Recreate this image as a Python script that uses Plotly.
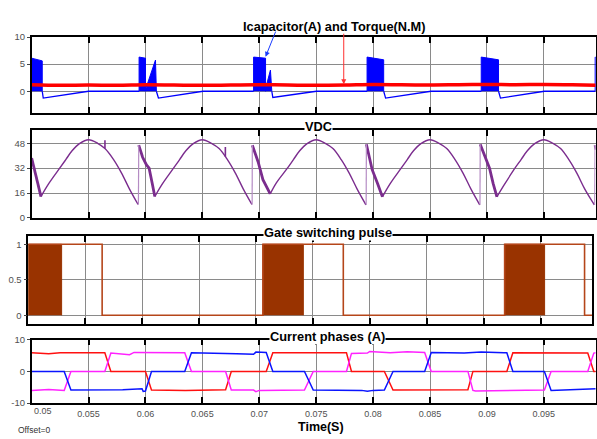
import plotly.graph_objects as go

W, H = 597, 439

# ---------------- data ----------------
# Panel 1: Icapacitor (blue) chopping pulses and Torque (red)
pulse_start = [0.0500, 0.05944, 0.06950, 0.07947, 0.08950, 0.09951]
pulse_end = [0.05093, 0.06000, 0.07055, 0.08093, 0.09102, 0.09960]
pulse_top_start = [6.1, 6.3, 6.3, 6.3, 6.3, 6.3]
pulse_top_end = [5.6, 6.1, 6.1, 5.8, 5.8, 6.3]
tri_t = [[0.06000, 0.06088, 0.06096], [0.07055, 0.07098, 0.07110]]
tri_v = [[0.3, 5.75, 0.0], [0.5, 3.9, 0.0]]
icap_t = [0.05093, 0.05102, 0.0550, 0.05944, None,
          0.06096, 0.06114, 0.06505, 0.06950, None,
          0.07110, 0.07119, 0.07502, 0.07947, None,
          0.08093, 0.08110, 0.08509, 0.08950, None,
          0.09102, 0.09119, 0.09505, 0.09951]
icap_v = [0.0, -1.25, 0.0, 0.0, None,
          0.0, -1.25, 0.0, 0.0, None,
          0.0, -1.15, 0.0, 0.0, None,
          0.0, -1.25, 0.0, 0.0, None,
          0.0, -1.25, 0.0, 0.0]
torque_t = [0.05, 0.0525, 0.055, 0.0575, 0.06, 0.0625, 0.065, 0.0675, 0.07, 0.0725,
            0.075, 0.0775, 0.08, 0.0825, 0.085, 0.0875, 0.09, 0.0925, 0.095, 0.0975, 0.0996]
torque_v = [1.2, 1.1, 1.15, 1.1, 1.2, 1.15, 1.1, 1.15, 1.2, 1.15,
            1.1, 1.15, 1.25, 1.2, 1.15, 1.2, 1.25, 1.2, 1.25, 1.2, 1.1]

# Panel 2: VDC
arc_t = [0.05082, 0.0515, 0.05237, 0.0530, 0.05355, 0.0542, 0.0550, 0.0558, 0.05644, 0.0572, 0.0579, 0.0586, 0.05935, None,
         0.06082, 0.0615, 0.06237, 0.0630, 0.06355, 0.0642, 0.0650, 0.0658, 0.06647, 0.0672, 0.0679, 0.0686, 0.06935, None,
         0.07096, 0.0715, 0.07237, 0.0730, 0.07355, 0.0742, 0.0750, 0.0758, 0.07647, 0.0772, 0.0779, 0.0786, 0.07937, None,
         0.08082, 0.0815, 0.08237, 0.0830, 0.08355, 0.0842, 0.0850, 0.0858, 0.08647, 0.0872, 0.0879, 0.0886, 0.08937, None,
         0.09088, 0.0915, 0.09237, 0.0930, 0.09355, 0.0942, 0.0950, 0.0958, 0.09647, 0.0972, 0.0979, 0.0986, 0.09944]
arc_v = [13.7, 22.0, 31.0, 37.5, 43.2, 47.8, 50.3, 48.0, 44.6, 37.5, 28.8, 18.5, 8.6, None,
         13.7, 22.0, 31.0, 37.5, 43.2, 47.8, 50.3, 48.0, 44.6, 37.5, 28.8, 18.5, 8.6, None,
         15.4, 22.5, 31.0, 37.5, 43.2, 47.8, 50.3, 48.0, 44.6, 37.5, 28.8, 18.5, 8.4, None,
         13.5, 22.0, 31.0, 37.5, 43.2, 47.8, 50.3, 48.0, 44.6, 37.5, 28.8, 18.5, 8.4, None,
         13.5, 21.0, 31.0, 37.5, 43.2, 47.8, 50.3, 48.0, 44.6, 37.5, 28.8, 18.5, 8.4]
desc_t = [0.0500, 0.05030, 0.05060, 0.05082, None,
          0.05941, 0.05975, 0.06009, 0.06032, 0.06060, 0.06082, None,
          0.06939, 0.06990, 0.07032, 0.07060, 0.07096, None,
          0.07941, 0.07992, 0.08040, 0.08082, None,
          0.08941, 0.09023, 0.09055, 0.09088, None,
          0.09950, 0.09960]
desc_v = [38.5, 29.0, 20.0, 13.7, None,
          46.8, 39.0, 34.1, 32.0, 22.0, 13.7, None,
          46.8, 36.0, 24.6, 20.4, 15.4, None,
          47.4, 31.0, 22.0, 13.5, None,
          47.4, 32.0, 22.0, 13.5, None,
          46.8, 44.0]
jump_t = [0.05938, 0.05941, None, 0.06937, 0.06939, None, 0.07939, 0.07941, None,
          0.08939, 0.08941, None, 0.09947, 0.09950]
jump_v = [8.6, 46.8, None, 8.6, 46.8, None, 8.4, 47.4, None, 8.4, 47.4, None, 8.4, 46.8]
spike_t = [0.05644, 0.05644, None, 0.06702, 0.06702]
spike_v = [44.6, 50.0, None, 39.3, 45.7]

# Panel 3: gate switching pulse
chop_start = [0.0500, 0.07061, 0.09184]
chop_end = [0.05293, 0.07416, 0.09535]
gate_t = [0.0500, 0.05293, 0.05649, 0.07061, 0.07416, 0.07767, 0.09184, 0.09535, 0.09886, 0.0996]
gate_v = [1, 1, 0, 1, 1, 0, 1, 1, 0, 0]

# Panel 4: current phases
ia_t = [0.0500, 0.0515, 0.0525, 0.05643, 0.05696, 0.0600, 0.06053, 0.0635, 0.06704, 0.06754, 0.07061, 0.07119,
        0.07766, 0.07810, 0.08099, 0.08175, 0.08833, 0.08877, 0.09175, 0.09228, 0.09886, 0.09939, 0.0996]
ia_v = [5.9, 5.6, 5.9, 5.9, 0.0, 0.0, -5.9, -6.0, -5.8, 0.0, 0.0, 5.9,
        5.9, 0.0, 0.0, -5.9, -5.8, 0.0, 0.0, 5.9, 5.8, 0.0, 0.0]
ib_t = [0.0500, 0.0515, 0.05286, 0.05345, 0.05643, 0.05696, 0.0586, 0.0590, 0.06345, 0.06404, 0.06704, 0.06754,
        0.0695, 0.0697, 0.0700, 0.07397, 0.07474, 0.07766, 0.07810, 0.0795, 0.0797, 0.0815, 0.0830, 0.08453,
        0.08511, 0.08833, 0.08877, 0.0890, 0.09505, 0.09564, 0.09886, 0.09939, 0.0996]
ib_v = [-6.0, -5.7, -6.0, 0.0, 0.0, 5.8, 5.3, 6.0, 5.9, 0.0, 0.0, -5.9,
        -5.9, -6.4, -6.0, -5.9, 0.0, 0.0, 5.7, 5.8, 6.3, 5.9, 6.2, 6.0,
        0.0, 0.0, -6.0, -6.2, -5.9, 0.0, 0.0, 5.8, 5.9]
ic_t = [0.0500, 0.05286, 0.05345, 0.0580, 0.0597, 0.0598, 0.0600, 0.06053, 0.06345, 0.06404, 0.0680, 0.0695,
        0.0697, 0.07061, 0.07119, 0.07397, 0.07474, 0.0790, 0.0795, 0.0800, 0.08099, 0.08175, 0.08453, 0.08511,
        0.0880, 0.0895, 0.0915, 0.09175, 0.09228, 0.09505, 0.09564, 0.0975, 0.0990, 0.0996]
ic_v = [0.0, 0.0, -5.9, -5.8, -5.5, -6.3, -6.2, 0.0, 0.0, 5.9, 5.6, 5.4,
        6.1, 6.0, 0.0, 0.0, -5.9, -6.0, -6.3, -6.0, -5.9, 0.0, 0.0, 6.0,
        5.8, 6.1, 5.9, 5.9, 0.0, 0.0, -6.0, -5.9, -5.6, -5.5]

x_ticks = [0.05, 0.055, 0.06, 0.065, 0.07, 0.075, 0.08, 0.085, 0.09, 0.095]
x_labels = ["0.05", "0.055", "0.06", "0.065", "0.07", "0.075", "0.08", "0.085", "0.09", "0.095"]

# ---------------- figure ----------------
fig = go.Figure()

FONT = "Liberation Sans, Arial, sans-serif"

# panel 1
for i in range(len(pulse_start)):
    fig.add_trace(go.Scatter(
        x=[pulse_start[i], pulse_start[i], pulse_end[i], pulse_end[i]],
        y=[0, pulse_top_start[i], pulse_top_end[i], 0],
        fill="toself", fillcolor="#0000FF", mode="lines",
        line=dict(color="#0000FF", width=1), xaxis="x", yaxis="y", hoverinfo="skip"))
for tt, vv in zip(tri_t, tri_v):
    fig.add_trace(go.Scatter(
        x=[tt[0]] + tt + [tt[-1]], y=[0] + vv + [0],
        fill="toself", fillcolor="#0000FF", mode="lines",
        line=dict(color="#0000FF", width=1), xaxis="x", yaxis="y", hoverinfo="skip"))
fig.add_trace(go.Scatter(x=icap_t, y=icap_v, mode="lines",
                         line=dict(color="#0000FF", width=1.3), xaxis="x", yaxis="y"))
fig.add_trace(go.Scatter(x=torque_t, y=torque_v, mode="lines", line_shape="spline",
                         line=dict(color="#FF0000", width=3.5), xaxis="x", yaxis="y"))

# panel 2
VC = "#7B2D8E"
fig.add_trace(go.Scatter(x=arc_t, y=arc_v, mode="lines", line_shape="spline",
                         line=dict(color=VC, width=1.4), xaxis="x2", yaxis="y2"))
fig.add_trace(go.Scatter(x=desc_t, y=desc_v, mode="lines",
                         line=dict(color=VC, width=2.8), xaxis="x2", yaxis="y2"))
fig.add_trace(go.Scatter(x=jump_t, y=jump_v, mode="lines",
                         line=dict(color="#B58CC4", width=1.2), xaxis="x2", yaxis="y2"))
fig.add_trace(go.Scatter(x=spike_t, y=spike_v, mode="lines",
                         line=dict(color=VC, width=1.6), xaxis="x2", yaxis="y2"))

# panel 3
for s, e in zip(chop_start, chop_end):
    fig.add_trace(go.Scatter(x=[s, s, e, e], y=[0, 1, 1, 0], fill="toself",
                             fillcolor="#993300", mode="lines",
                             line=dict(color="#993300", width=1), xaxis="x3", yaxis="y3"))
fig.add_trace(go.Scatter(x=gate_t, y=gate_v, mode="lines", line_shape="hv",
                         line=dict(color="#B5461A", width=1.6), xaxis="x3", yaxis="y3"))

# panel 4
fig.add_trace(go.Scatter(x=ia_t, y=ia_v, mode="lines", line=dict(color="#FF1010", width=1.5),
                         xaxis="x4", yaxis="y4"))
fig.add_trace(go.Scatter(x=ib_t, y=ib_v, mode="lines", line=dict(color="#FF22FF", width=1.5),
                         xaxis="x4", yaxis="y4"))
fig.add_trace(go.Scatter(x=ic_t, y=ic_v, mode="lines", line=dict(color="#0A14FF", width=1.5),
                         xaxis="x4", yaxis="y4"))


def px(v):
    return v / W


def py(v):
    return 1 - v / H


xr = [0.05, 0.09954]
tickfont = dict(family=FONT, size=9.5, color="#505050")
xtickfont = dict(family=FONT, size=9, color="#505050")


def xax(dom, labels=False):
    d = dict(domain=dom, range=xr, tickvals=x_ticks,
             ticktext=([""] + x_labels[1:]) if labels else [""] * len(x_ticks),
             showgrid=True, gridcolor="#8A8A8A", gridwidth=1,
             showline=True, linecolor="black", linewidth=1.5, mirror="ticks",
             ticks="inside", ticklen=6, tickwidth=1.5, tickcolor="black",
             tickfont=xtickfont, zeroline=False, fixedrange=True)
    if labels:
        d["ticklabelstandoff"] = 1
    return d


def yax(dom, rng, tv, anchor):
    return dict(domain=dom, range=rng, tickvals=tv, ticktext=[f"{t:g}" for t in tv],
                showgrid=True, gridcolor="#8A8A8A", gridwidth=1,
                showline=True, linecolor="black", linewidth=1.5, mirror=True,
                ticks="outside", ticklen=3, tickwidth=1, tickcolor="#444444",
                tickfont=tickfont, zeroline=False, anchor=anchor, fixedrange=True)


dom_std = [px(31.7), px(596.5)]
dom_gate = [px(28.3), px(593.3)]

fig.update_layout(
    width=W, height=H, margin=dict(l=0, r=0, t=0, b=0),
    paper_bgcolor="white", plot_bgcolor="white", showlegend=False,
    xaxis=dict(xax(dom_std), anchor="y"),
    xaxis2=dict(xax(dom_std), anchor="y2"),
    xaxis3=dict(xax(dom_gate), anchor="y3"),
    xaxis4=dict(xax(dom_std, labels=True), anchor="y4"),
    yaxis=yax([py(110), py(31.7)], [-4.05, 10.02], [0, 5, 10], "x"),
    yaxis2=yax([py(217.3), py(127.3)], [0, 56.5], [0, 16, 32, 48], "x2"),
    yaxis3=yax([py(326), py(235.7)], [-0.12, 1.12], [0, 0.5, 1], "x3"),
    yaxis4=yax([py(407.3), py(342.3)], [-10.02, 10.02], [-10, 0, 10], "x4"),
)

TF = dict(family=FONT, size=12.8, color="black")
titles = [("<b>Icapacitor(A) and Torque(N.M)</b>", 334.3, 21),
          ("<b>VDC</b>", 319.2, 123.5),
          ("<b>Gate switching pulse</b>", 328.5, 232.5),
          ("<b>Current phases (A)</b>", 328.5, 338.5)]
for txt, x, y in titles:
    fig.add_annotation(text=txt, x=px(x), y=py(y), xref="paper", yref="paper",
                       xanchor="center", yanchor="middle", showarrow=False,
                       font=TF, bgcolor="white", borderpad=0)

fig.add_annotation(text="<b>Time(S)</b>", x=px(321.2), y=py(432), xref="paper", yref="paper",
                   xanchor="center", yanchor="middle", showarrow=False,
                   font=dict(family=FONT, size=12.5, color="black"))
fig.add_annotation(text="Offset=0", x=px(16), y=py(434.5), xref="paper", yref="paper",
                   xanchor="left", yanchor="middle", showarrow=False,
                   font=dict(family=FONT, size=8.5, color="#333333"))
fig.add_annotation(text=x_labels[0], x=px(31.7), y=py(415), xref="paper", yref="paper",
                   xanchor="left", yanchor="middle", showarrow=False, font=xtickfont)

# arrows
fig.add_annotation(x=0.07055, y=6.36, xref="x", yref="y", ax=10.7, ay=-26.7,
                   axref="pixel", ayref="pixel", text="", showarrow=True,
                   arrowhead=2, arrowsize=1, arrowwidth=1, arrowcolor="#1A3CFF")
fig.add_annotation(x=0.07742, y=1.3, xref="x", yref="y", ax=0, ay=-52,
                   axref="pixel", ayref="pixel", text="", showarrow=True,
                   arrowhead=2, arrowsize=1, arrowwidth=1, arrowcolor="#FF3030")

fig.write_html("out.html", config={"displayModeBar": False},
               post_script="document.body.style.margin='0';document.body.style.overflow='hidden';")
